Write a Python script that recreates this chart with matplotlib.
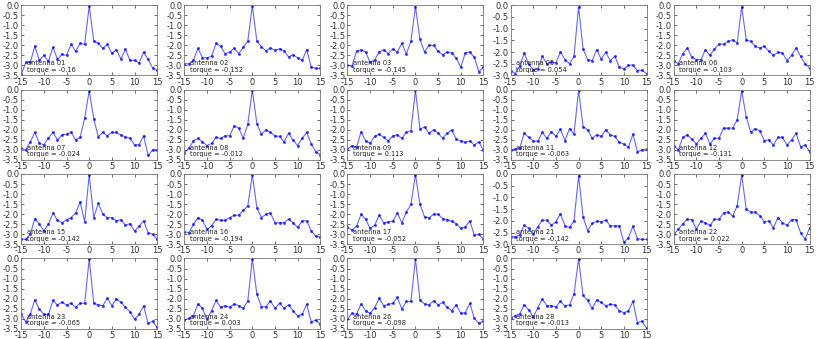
import numpy as np
import matplotlib
matplotlib.use("Agg")
import matplotlib.pyplot as plt
from matplotlib.ticker import MultipleLocator

# offsets -15..15
x = np.arange(-15, 16)

antennas = ["01", "02", "03", "05", "06",
            "07", "08", "09", "11", "12",
            "15", "16", "17", "21", "22",
            "23", "24", "26", "28"]

torques = ["-0.16", "-0.152", "-0.145", "0.054", "-0.103",
           "-0.024", "-0.012", "0.113", "-0.063", "-0.131",
           "-0.142", "-0.194", "-0.052", "-0.142", "0.022",
           "-0.065", "0.003", "-0.098", "-0.013"]

a01 = [-3.45, -2.85, -2.85, -2.05, -2.75, -2.5, -2.8, -2.1, -2.7, -2.45, -2.5, -1.95, -2.3, -1.9, -1.95, -0.05,
       -1.78, -1.9, -2.15, -1.95, -2.4, -2.22, -2.68, -2.2, -2.75, -2.75, -2.88, -2.35, -2.7, -3.12, -3.25]
a02 = [-2.92, -2.92, -2.75, -2.15, -2.62, -2.62, -2.55, -1.9, -2.05, -2.42, -2.33, -2.15, -2.42, -2.1, -1.8, -0.03,
       -1.78, -2.07, -2.27, -2.13, -2.25, -2.17, -2.27, -2.58, -2.47, -2.62, -2.75, -2.22, -3.08, -3.15, -3.15]
a03 = [-3.0, -3.03, -2.3, -2.22, -2.33, -2.85, -2.72, -2.33, -2.22, -2.42, -2.18, -2.33, -1.9, -2.43, -1.8, -0.08,
       -1.7, -2.33, -2.0, -2.0, -2.3, -2.47, -2.33, -2.38, -2.63, -3.1, -2.38, -2.33, -2.6, -3.32, -3.08]
a05 = [-2.79, -2.92, -2.6, -2.04, -2.53, -2.75, -2.72, -2.18, -2.5, -2.42, -2.46, -2.0, -2.32, -2.5, -2.18, -0.07,
       -1.87, -2.32, -2.37, -1.9, -2.3, -2.01, -2.37, -2.18, -2.65, -2.72, -2.56, -2.56, -2.79, -2.77, -2.92]
a06 = [-2.76, -2.92, -2.42, -2.13, -2.6, -2.71, -2.71, -2.22, -2.5, -2.18, -1.94, -1.94, -1.81, -1.72, -1.89, -0.08,
       -1.72, -1.81, -2.05, -2.13, -2.05, -2.3, -2.5, -2.35, -2.38, -2.76, -2.5, -2.13, -2.55, -2.92, -3.12]
a07 = [-2.92, -3.0, -2.6, -2.13, -2.68, -2.74, -2.42, -2.13, -2.5, -2.25, -2.22, -2.13, -2.5, -2.38, -1.43, -0.05,
       -1.45, -2.35, -2.13, -2.3, -2.13, -2.13, -2.27, -2.35, -2.43, -2.76, -2.74, -2.3, -3.28, -2.99, -3.0]
a08 = [-3.15, -2.92, -2.55, -2.43, -2.6, -2.79, -2.68, -2.38, -2.43, -2.3, -2.3, -1.81, -1.92, -2.43, -1.72, -0.03,
       -1.69, -2.22, -2.0, -2.13, -2.3, -2.33, -2.6, -2.18, -2.51, -2.79, -2.42, -2.13, -2.71, -3.09, -3.24]
a09 = [-2.96, -2.79, -2.87, -2.1, -2.55, -2.66, -2.33, -2.22, -2.38, -2.55, -2.3, -2.25, -2.42, -2.13, -2.05, -0.03,
       -1.97, -1.86, -2.17, -2.0, -2.17, -2.42, -2.17, -2.02, -2.47, -2.55, -2.63, -2.55, -2.76, -2.6, -3.02]
a11 = [-3.0, -2.96, -2.92, -2.18, -2.38, -2.55, -2.58, -2.13, -2.43, -2.1, -2.33, -1.97, -2.55, -1.94, -2.22, -0.03,
       -1.84, -2.0, -2.42, -2.25, -2.33, -2.0, -2.25, -2.33, -2.63, -2.71, -2.87, -2.22, -3.09, -3.0, -2.96]
a12 = [-2.79, -3.0, -2.38, -2.25, -2.47, -2.71, -2.43, -2.18, -2.71, -2.42, -2.42, -1.92, -1.92, -1.92, -1.51, -0.08,
       -1.35, -2.13, -1.94, -2.05, -2.55, -2.5, -2.76, -2.38, -2.38, -2.76, -2.51, -2.18, -2.84, -2.76, -3.09]
a15 = [-3.24, -3.25, -3.0, -2.22, -2.5, -2.82, -2.5, -1.94, -2.3, -2.42, -2.27, -2.17, -1.94, -1.4, -2.38, -0.03,
       -2.18, -1.45, -2.0, -2.17, -2.18, -2.33, -2.27, -2.55, -2.47, -2.84, -2.6, -2.33, -2.92, -3.0, -3.24]
a16 = [-2.87, -2.92, -2.51, -2.17, -2.3, -2.76, -2.58, -2.25, -2.3, -2.3, -2.17, -2.05, -2.05, -1.81, -1.59, -0.03,
       -1.67, -2.17, -2.0, -1.94, -2.43, -2.43, -2.42, -2.25, -2.42, -2.66, -2.33, -2.33, -2.82, -3.09, -3.15]
a17 = [-2.66, -2.79, -2.6, -2.0, -2.25, -2.71, -2.55, -2.05, -2.43, -2.38, -2.35, -1.94, -2.43, -1.89, -1.51, -0.03,
       -1.51, -2.13, -2.18, -2.0, -2.0, -2.22, -2.27, -2.35, -2.47, -2.71, -2.63, -2.33, -3.04, -3.0, -3.24]
a21 = [-2.68, -2.68, -2.6, -2.18, -2.32, -2.56, -2.25, -1.97, -1.97, -2.18, -2.04, -1.69, -2.21, -2.28, -2.0, -0.07,
       -1.83, -2.42, -2.11, -2.01, -2.04, -1.97, -2.21, -2.21, -2.21, -2.92, -2.72, -2.23, -2.75, -2.79, -2.79]
a22 = [-3.0, -2.76, -2.47, -2.25, -2.27, -2.74, -2.35, -2.43, -2.55, -2.25, -2.25, -1.94, -1.89, -2.1, -1.59, -0.03,
       -1.76, -1.89, -1.89, -2.08, -2.38, -2.33, -2.68, -2.17, -2.42, -2.55, -2.27, -2.27, -2.92, -3.24, -2.68]
a23 = [-2.78, -3.15, -2.76, -2.06, -2.53, -2.78, -2.78, -2.09, -2.31, -2.18, -2.31, -2.23, -2.43, -2.23, -2.23, -0.02,
       -2.23, -2.31, -2.35, -1.98, -2.35, -2.01, -2.18, -2.43, -2.65, -3.02, -2.78, -2.35, -3.23, -3.12, -3.43]
a24 = [-3.07, -2.98, -2.85, -2.26, -2.48, -3.03, -2.6, -2.09, -2.43, -2.35, -2.43, -2.26, -2.35, -2.48, -2.11, -0.01,
       -1.78, -2.4, -2.4, -2.11, -2.48, -2.23, -2.48, -2.31, -2.6, -2.86, -2.78, -2.28, -3.15, -3.07, -3.27]
a26 = [-3.02, -2.73, -2.78, -2.26, -2.61, -2.73, -2.45, -1.98, -2.35, -2.28, -2.23, -1.94, -2.51, -2.14, -2.14, -0.02,
       -2.06, -2.26, -2.31, -2.11, -2.31, -2.19, -2.43, -2.6, -2.31, -2.73, -2.7, -2.23, -2.98, -3.23, -3.12]
a28 = [-2.98, -2.85, -2.76, -2.31, -2.56, -2.93, -2.45, -2.01, -2.35, -2.35, -2.4, -2.14, -2.36, -2.31, -1.76, -0.02,
       -1.84, -2.09, -2.48, -2.06, -2.19, -2.35, -2.28, -2.31, -2.6, -2.7, -2.6, -2.14, -3.2, -3.12, -3.48]

series = [a01, a02, a03, a05, a06, a07, a08, a09, a11, a12,
          a15, a16, a17, a21, a22, a23, a24, a26, a28]

plt.rcParams["axes.autolimit_mode"] = "round_numbers"
plt.rcParams["axes.xmargin"] = 0
plt.rcParams["axes.ymargin"] = 0
plt.rcParams["axes.unicode_minus"] = False
plt.rcParams["xtick.direction"] = "in"
plt.rcParams["ytick.direction"] = "in"
plt.rcParams["xtick.top"] = True
plt.rcParams["ytick.right"] = True

fig, axes = plt.subplots(4, 5, figsize=(8.17, 3.39), dpi=100)
fig.subplots_adjust(left=0.026, right=0.991, top=0.985, bottom=0.03, wspace=0.2, hspace=0.2)

for i, ax in enumerate(axes.flat):
    if i >= len(series):
        ax.axis("off")
        continue
    ax.plot(x, series[i], color="b", alpha=0.6, lw=0.8, marker=".", markersize=2.5)
    ax.xaxis.set_major_locator(MultipleLocator(5))
    ax.yaxis.set_major_locator(MultipleLocator(0.5))
    ax.tick_params(labelsize=6, length=2.5, width=0.5, pad=1.5, colors="#333333")
    for s in ax.spines.values():
        s.set_linewidth(0.6)
        s.set_color("#777777")
    ax.text(0.04, 0.05, "antenna %s\ntorque = %s" % (antennas[i], torques[i]),
            transform=ax.transAxes, fontsize=4.8, color="#222222", linespacing=1.1)

fig.savefig("out.png")
